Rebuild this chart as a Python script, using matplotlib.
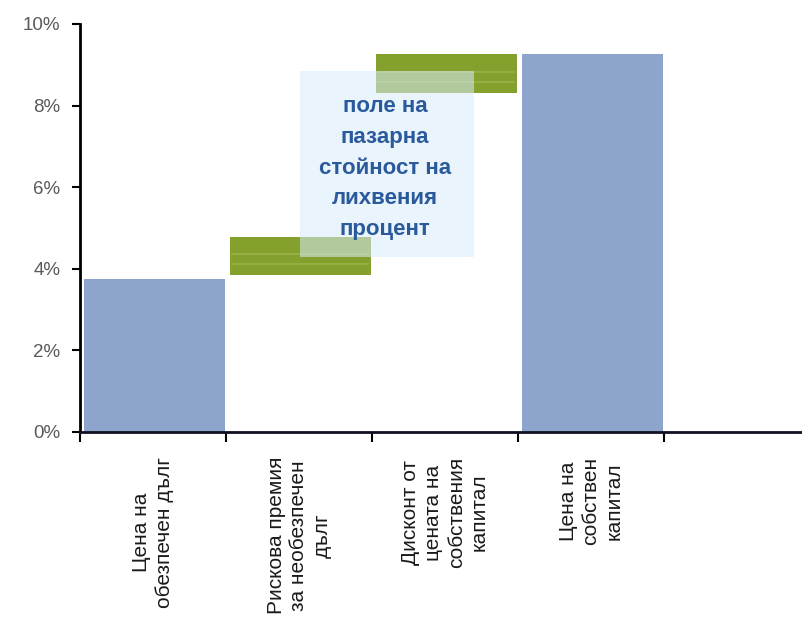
import matplotlib
matplotlib.use("Agg")
import matplotlib.pyplot as plt
import numpy as np
from matplotlib.ticker import FuncFormatter

plt.rcParams["font.family"] = ["Liberation Sans", "DejaVu Sans"]

# waterfall components (percent): each bar runs from bottom to top
categories = [
    "Цена на\nобезпечен дълг",
    "Рискова премия\nза необезпечен\nдълг",
    "Дисконт от\nцената на\nсобствения\nкапитал",
    "Цена на\nсобствен\nкапитал",
    "",
]
bar_bottom = [0.0, 3.85, 8.30, 0.0]
bar_top = [3.75, 4.78, 9.26, 9.26]
bar_kind = ["total", "step", "step", "total"]

box_text = "поле на\nпазарна\nстойност на\nлихвения\nпроцент"

blue = "#8da5cc"
green = "#84a02d"

fig = plt.figure(figsize=(8.02, 6.42), dpi=100)
ax = fig.add_axes([80 / 802, 1 - 432 / 642, 730 / 802, 408 / 642])

x = np.arange(len(bar_top))
heights = np.array(bar_top) - np.array(bar_bottom)
colors = [blue if k == "total" else green for k in bar_kind]
ax.bar(x + 0.025, heights, bottom=bar_bottom, width=0.97, align="edge",
       color=colors, edgecolor="none", zorder=2)

# thin light streaks on the green step bars
for xi, b, t, k in zip(x, bar_bottom, bar_top, bar_kind):
    if k != "step":
        continue
    for frac in (0.3, 0.55):
        yy = b + (t - b) * frac
        ax.plot([xi + 0.04, xi + 0.97], [yy, yy], color="#a3bb55",
                lw=1.2, alpha=0.7, zorder=3)

ax.set_xlim(0, 5)
ax.set_ylim(0, 10)

# ticks at the category boundaries, labels centred between them
ax.set_xticks(np.arange(0, 6))
ax.set_xticklabels([])
ax.set_xticks(np.arange(len(categories)) + 0.5, minor=True)
ax.set_xticklabels(categories, minor=True, rotation=90, ha="center",
                   va="top", multialignment="center", fontsize=15,
                   color="#1a1a1a", linespacing=1.25)
ax.tick_params(axis="x", which="major", direction="out", length=7,
               width=1.5, color="black")
ax.tick_params(axis="x", which="minor", length=0, pad=18)

ax.set_yticks(np.arange(0, 11, 2))
ax.yaxis.set_major_formatter(FuncFormatter(lambda v, p: "%d%%" % v))
ax.tick_params(axis="y", direction="out", length=6, width=1.5,
               labelsize=13.5, labelcolor="#5a5a5a", pad=8)

for side in ("top", "right"):
    ax.spines[side].set_visible(False)
ax.spines["left"].set_linewidth(2)
ax.spines["bottom"].set_linewidth(2)
ax.spines["bottom"].set_color("#111122")

# translucent annotation box over the middle of the chart
ax.add_patch(plt.Rectangle((1.51, 4.3), 1.19, 4.55, transform=ax.transData,
                           facecolor="#d8ecfb", edgecolor="none",
                           alpha=0.55, zorder=4))
ax.text(2.09, 6.47, box_text, ha="center", va="center", fontsize=16,
        fontweight="bold", color="#2a5a9c", linespacing=1.6, zorder=5)

fig.savefig("out.png", dpi=100)
